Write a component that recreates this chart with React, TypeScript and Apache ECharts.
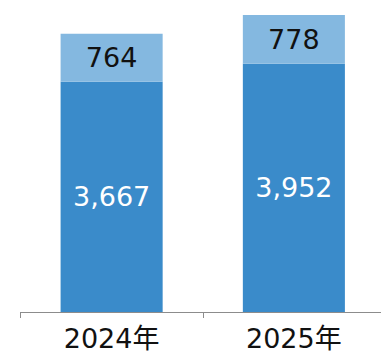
import React, { useEffect, useRef } from "react";
import * as echarts from "echarts";

const categories = ["2024年", "2025年"];
const baseValues = [3667, 3952];
const topValues = [764, 778];

export default function App() {
  const ref = useRef<HTMLDivElement>(null);
  useEffect(() => {
    if (!ref.current) return;
    const chart = echarts.init(ref.current, undefined, { renderer: "svg" });
    const font = "DejaVu Sans, Verdana, Noto Sans CJK JP, sans-serif";
    chart.setOption({
      animation: false,
      grid: { left: 20.5, right: 0, top: 10.6, bottom: 42 },
      xAxis: {
        type: "category",
        data: categories,
        axisLine: { show: true, lineStyle: { color: "#8c8c8c", width: 1 } },
        axisTick: { show: true, length: 6, lineStyle: { color: "#8c8c8c" } },
        axisLabel: { color: "#111", fontSize: 27, fontFamily: font, margin: 13 },
      },
      yAxis: { type: "value", min: 0, max: 4800, show: false, splitLine: { show: false } },
      series: [
        {
          type: "bar",
          stack: "a",
          data: baseValues,
          barWidth: "56%",
          itemStyle: { color: "#3a8bca" },
          label: {
            show: true,
            position: "inside",
            color: "#fff",
            fontSize: 27,
            fontFamily: font,
            formatter: (p: any) => p.value.toLocaleString("en-US"),
          },
        },
        {
          type: "bar",
          stack: "a",
          data: topValues,
          barWidth: "56%",
          itemStyle: { color: "#84b8e0" },
          label: {
            show: true,
            position: "inside",
            color: "#111",
            fontSize: 27,
            fontFamily: font,
          },
        },
      ],
    });
    return () => chart.dispose();
  }, []);
  return (
    <div style={{ position: "absolute", left: 0, top: 0, width: 381, height: 354, overflow: "hidden" }}>
      <div ref={ref} style={{ width: 385, height: 354 }} />
    </div>
  );
}
